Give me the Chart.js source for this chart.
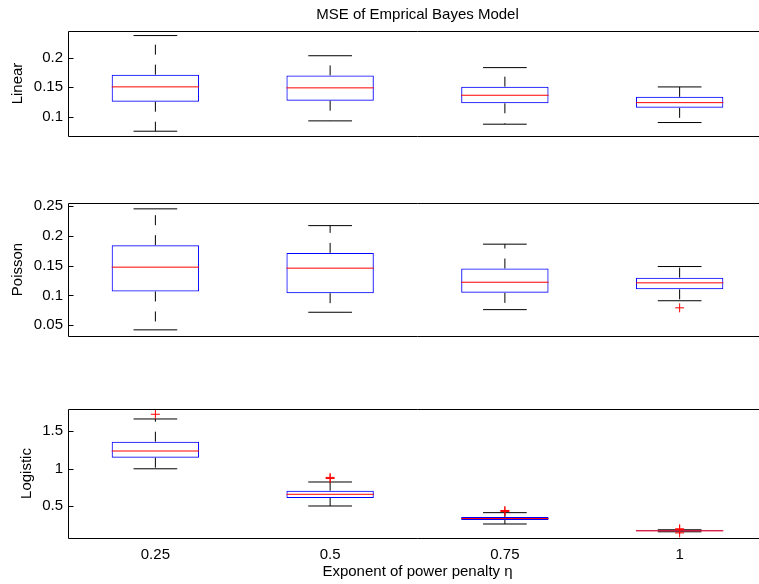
<!DOCTYPE html>
<html>
<head>
<meta charset="utf-8">
<script src="https://cdn.jsdelivr.net/npm/chart.js@4.4.1/dist/chart.umd.min.js"></script>
<style>
  html, body { margin: 0; padding: 0; background: #fff; overflow: hidden; }
  #wrap { width: 759px; height: 584px; overflow: hidden; position: relative; }
  canvas { position: absolute; left: 0; }
</style>
</head>
<body>
<div id="wrap">
<canvas id="cLinear" width="780" height="150" style="top:0px"></canvas>
<canvas id="cPoisson" width="780" height="200" style="top:150px"></canvas>
<canvas id="cLogistic" width="780" height="234" style="top:350px"></canvas>
</div>
<script>
// exponent values on the x axis
var categories = ["0.25", "0.5", "0.75", "1"];

// Linear model MSE box stats
var linLow = [0.0755, 0.093, 0.0874, 0.0902];
var linQ1 = [0.1255, 0.1272, 0.1228, 0.1151];
var linMed = [0.1506, 0.1489, 0.1364, 0.1239];
var linQ3 = [0.1713, 0.170, 0.151, 0.1337];
var linHigh = [0.2375, 0.2033, 0.1832, 0.1505];
var linOut = [[], [], [], []];
var linTicks = [0.1, 0.15, 0.2];

// Poisson model
var poiLow = [0.0423, 0.0718, 0.0762, 0.0911];
var poiQ1 = [0.1066, 0.1038, 0.1043, 0.1102];
var poiMed = [0.1474, 0.1457, 0.1221, 0.1211];
var poiQ3 = [0.1842, 0.1713, 0.1451, 0.1298];
var poiHigh = [0.2451, 0.2170, 0.1859, 0.1484];
var poiOut = [[], [], [], [0.0792]];
var poiTicks = [0.05, 0.1, 0.15, 0.2, 0.25];

// Logistic model
var logLow = [1.0, 0.504, 0.264, 0.16];
var logQ1 = [1.148, 0.611, 0.317, 0.167];
var logMed = [1.237, 0.66, 0.337, 0.173];
var logQ3 = [1.361, 0.708, 0.357, 0.18];
var logHigh = [1.664, 0.824, 0.415, 0.187];
var logOut = [[1.727], [0.885, 0.87], [0.444, 0.431], [0.2, 0.19, 0.145]];
var logTicks = [0.5, 1, 1.5];

Chart.defaults.font.family = "'Liberation Sans', Arial, sans-serif";
Chart.defaults.font.size = 15;
Chart.defaults.color = "#000";

// axes box (right side is off the figure) + inward y ticks, like matlab
var frame = {
    id: "frame",
    afterDraw: function (chart) {
        var ctx = chart.ctx;
        var a = chart.chartArea;
        var y = chart.scales.y;
        var l = Math.round(a.left) + 0.5, r = Math.round(a.right);
        var t = Math.round(a.top) + 0.5, b = Math.round(a.bottom) + 0.5;
        ctx.save();
        ctx.strokeStyle = "#000";
        ctx.lineWidth = 1;
        ctx.beginPath();
        ctx.moveTo(l, t); ctx.lineTo(r, t);
        ctx.moveTo(l, b); ctx.lineTo(r, b);
        ctx.moveTo(l, t); ctx.lineTo(l, b);
        y.ticks.forEach(function (tk) {
            var py = Math.round(y.getPixelForValue(tk.value)) + 0.5;
            ctx.moveTo(l, py); ctx.lineTo(l + 5, py);
        });
        ctx.stroke();
        ctx.restore();
    }
};

function halfUnits(u) {
    return function (c) {
        var s = c.chart.scales.x;
        return Math.abs(s.getPixelForValue(1 + u) - s.getPixelForValue(1));
    };
}

function buildDatasets(low, q1, med, q3, high, out) {
    var whisk = [], caps = [], meds = [], boxes = [], outs = [];
    for (var i = 0; i < 4; i++) {
        var x = i + 1;
        whisk.push({x: x, y: q3[i]}, {x: x, y: high[i]}, {x: x, y: null});
        whisk.push({x: x, y: q1[i]}, {x: x, y: low[i]}, {x: x, y: null});
        caps.push({x: x, y: high[i]}, {x: x, y: low[i]});
        meds.push({x: x, y: med[i]});
        boxes.push({x: x, y: [q1[i], q3[i]]});
        out[i].forEach(function (v) { outs.push({x: x, y: v}); });
    }
    return [
        {type: "line", data: outs, showLine: false, pointStyle: "cross",
            pointRadius: 4.5, pointBorderColor: "#ff0000", pointBorderWidth: 1},
        {type: "line", data: meds, showLine: false, pointStyle: "line",
            pointRadius: halfUnits(0.25), pointBorderColor: "#ff0000", pointBorderWidth: 1},
        {type: "bar", data: boxes, backgroundColor: "rgba(0,0,0,0)", borderColor: "#0000ff",
            borderWidth: 1, borderSkipped: false, barPercentage: 0.5, categoryPercentage: 1},
        {type: "line", data: caps, showLine: false, pointStyle: "line",
            pointRadius: halfUnits(0.125), pointBorderColor: "#000", pointBorderWidth: 1},
        {type: "line", data: whisk, borderColor: "#000", borderWidth: 1,
            borderDash: [10, 10], pointRadius: 0, spanGaps: false}
    ];
}

function makePanel(id, sets, yMin, yMax, yTicks, yTitle, yTitlePad, pad, opts) {
    var xAxis = {
        type: "linear", min: 0.5, max: 4.5, offset: false,
        display: opts.showX,
        grid: {display: false, drawTicks: false},
        border: {display: false},
        afterBuildTicks: function (s) {
            s.ticks = categories.map(function (c, i) { return {value: i + 1}; });
        },
        ticks: {
            padding: 8, autoSkip: false, maxRotation: 0,
            callback: function (v) { return categories[v - 1]; }
        },
        title: {display: !!opts.xTitle, text: opts.xTitle || "", padding: {top: 0, bottom: 3}}
    };
    if (opts.showX) {
        xAxis.afterFit = function (s) { s.height = 46; };
    }
    return new Chart(document.getElementById(id), {
        type: "bar",
        data: {datasets: sets},
        options: {
            responsive: false,
            animation: false,
            events: [],
            layout: {padding: pad},
            plugins: {
                legend: {display: false},
                tooltip: {enabled: false},
                title: {
                    display: !!opts.title, text: opts.title || "", fullSize: false,
                    font: {size: 15, weight: "normal"}, color: "#000",
                    padding: {top: 6, bottom: 7}
                }
            },
            scales: {
                x: xAxis,
                y: {
                    type: "linear", min: yMin, max: yMax,
                    grid: {display: false, drawTicks: false},
                    border: {display: false},
                    afterBuildTicks: function (s) {
                        s.ticks = yTicks.map(function (v) { return {value: v}; });
                    },
                    afterFit: function (s) { s.width = 68; },
                    ticks: {padding: 5, callback: function (v) { return String(v); }},
                    title: {display: true, text: yTitle, padding: {top: yTitlePad, bottom: 0}}
                }
            }
        },
        plugins: [frame]
    });
}

makePanel("cLinear", buildDatasets(linLow, linQ1, linMed, linQ3, linHigh, linOut),
    0.0674, 0.2452, linTicks, "Linear", 9.3, {top: 0, right: 13, bottom: 10, left: 0},
    {showX: false, title: "MSE of Emprical Bayes Model"});
makePanel("cPoisson", buildDatasets(poiLow, poiQ1, poiMed, poiQ3, poiHigh, poiOut),
    0.032, 0.2549, poiTicks, "Poisson", 9.3, {top: 53, right: 13, bottom: 11, left: 0},
    {showX: false});
makePanel("cLogistic", buildDatasets(logLow, logQ1, logMed, logQ3, logHigh, logOut),
    0.0773, 1.797, logTicks, "Logistic", 18, {top: 59, right: 13, bottom: 0, left: 0},
    {showX: true, xTitle: "Exponent of power penalty η"});
</script>
</body>
</html>
